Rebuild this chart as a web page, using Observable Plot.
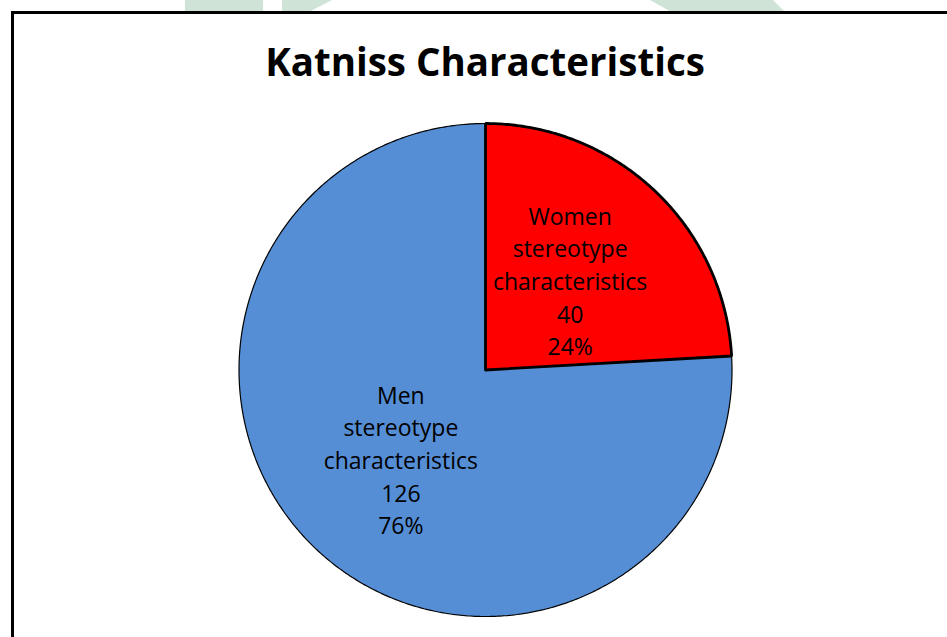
<!DOCTYPE html>
<html>
<head>
<meta charset="utf-8">
<script src="https://cdn.jsdelivr.net/npm/d3@7"></script>
<script src="https://cdn.jsdelivr.net/npm/@observablehq/plot@0.6"></script>
<style>
  html, body { margin: 0; padding: 0; background: #fff; }
  #wrap { position: relative; width: 947px; height: 637px; overflow: hidden; background: #fff; }
  #wm { position: absolute; left: 0; top: 0; }
  #frame { position: absolute; left: 11px; top: 11px; width: 1000px; height: 700px; border: 3px solid #000; background: #fff; box-sizing: border-box; }
  #title { position: absolute; left: 0; width: 970px; top: 35px; text-align: center; font-family: "Open Sans", sans-serif; font-weight: bold; font-size: 38.5px; color: #000; }
  #chart { position: absolute; left: 0; top: 0; }
</style>
</head>
<body>
<div id="wrap">
  <svg id="wm" width="947" height="14">
    <polygon points="185,0 263,0 263,14 185,14" fill="#cfe3d7"/>
    <polygon points="282,0 332,0 305,14 282,14" fill="#cfe3d7"/>
    <polygon points="650,0 773,0 787,14 675,14" fill="#cfe3d7"/>
  </svg>
  <div id="frame"></div>
  <div id="title">Katniss Characteristics</div>
  <div id="chart"></div>
</div>
<script>
const categories = ["Women stereotype characteristics", "Men stereotype characteristics"];
const values = [40, 126];
const colors = ["#ff0000", "#558ed5"];
const strokeWidths = [2.8, 1.2];

const total = d3.sum(values);
const pie = d3.pie().sort(null).value(d => d.value);
const arcs = pie(categories.map((c, i) => ({category: c, value: values[i], color: colors[i], sw: strokeWidths[i]})));

function slicePoints(a) {
  const pts = [{x: 0, y: 0, k: a.data.category}];
  const n = Math.max(8, Math.ceil((a.endAngle - a.startAngle) / 0.01));
  for (let j = 0; j <= n; j++) {
    const t = a.startAngle + (a.endAngle - a.startAngle) * j / n;
    pts.push({x: Math.sin(t), y: Math.cos(t), k: a.data.category});
  }
  pts.push({x: 0, y: 0, k: a.data.category});
  return pts;
}

const drawOrder = [arcs[1], arcs[0]];
const marks = drawOrder.map(a => Plot.line(slicePoints(a), {
  x: "x", y: "y", fill: a.data.color, stroke: "#000", strokeWidth: a.data.sw, strokeLinejoin: "miter"
}));

const labels = arcs.map(a => {
  const mid = (a.startAngle + a.endAngle) / 2;
  const words = a.data.category.split(" ");
  return {
    x: 0.5 * Math.sin(mid), y: 0.5 * Math.cos(mid),
    text: [words[0], words[1], words[2], String(a.data.value), Math.round(a.data.value / total * 100) + "%"].join("\n")
  };
});
marks.push(Plot.text(labels, {
  x: "x", y: "y", text: "text", lineHeight: 1.42, fontSize: 23, fill: "#000",
  fontFamily: "Open Sans", textAnchor: "middle", dy: -1
}));

const R = 246.5, cx = 485, cy = 369.5;
const chart = Plot.plot({
  width: 947, height: 637,
  marginLeft: cx - R, marginRight: 947 - (cx + R),
  marginTop: cy - R, marginBottom: 637 - (cy + R),
  x: {domain: [-1, 1], axis: null},
  y: {domain: [-1, 1], axis: null},
  style: {background: "transparent", overflow: "visible"},
  marks
});
document.getElementById("chart").appendChild(chart);
</script>
</body>
</html>
